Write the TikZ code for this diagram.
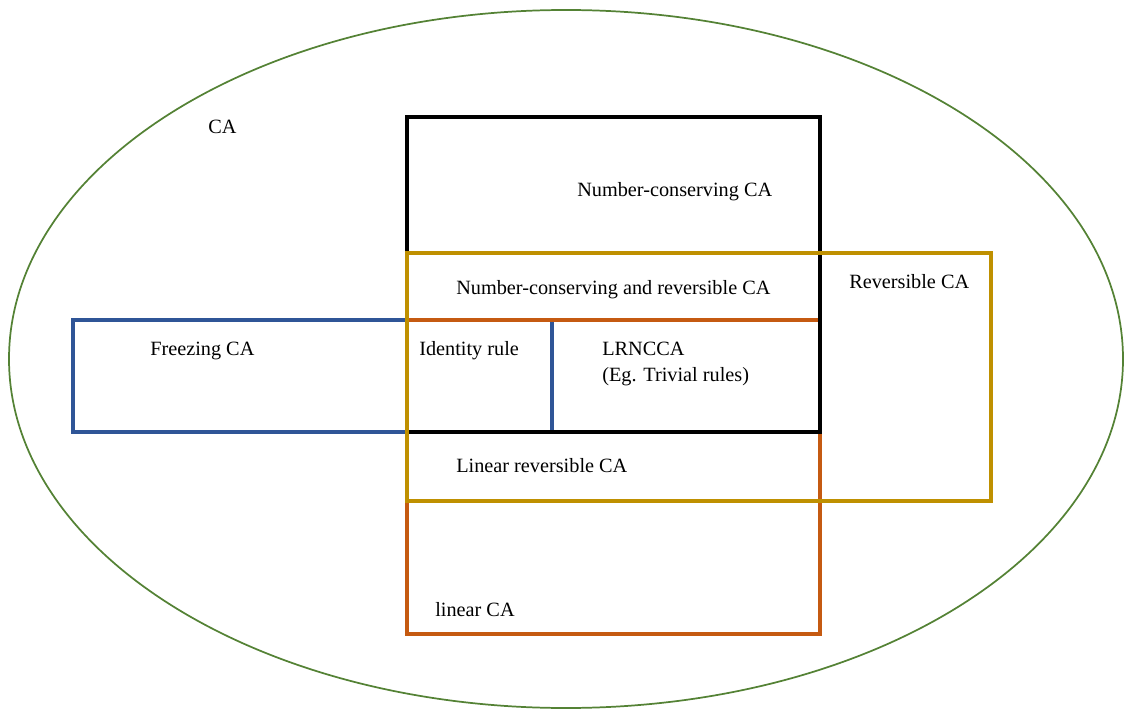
\documentclass[tikz,border=0pt]{standalone}
\usepackage{fontspec}
\setmainfont{Liberation Serif}
\definecolor{ellgreen}{HTML}{548235}
\definecolor{boxgold}{HTML}{BF9000}
\definecolor{boxorange}{HTML}{C55A11}
\definecolor{boxblue}{HTML}{2F5597}
\begin{document}
\begin{tikzpicture}[x=0.75pt,y=-0.75pt,
  lbl/.style={anchor=base west,inner sep=0pt,font=\fontsize{15.2}{18}\selectfont},
  setbox/.style={line width=2.3pt,line join=miter}]
\useasboundingbox (0,0) rectangle (1124,709);
\draw[ellgreen,line width=1.3pt] (566,359) ellipse [x radius=557,y radius=349];
% blue: freezing
\draw[setbox,boxblue] (407,320) -- (73,320) -- (73,432) -- (407,432);
\draw[setbox,boxblue] (552,320) -- (552,432);
% orange: linear
\draw[setbox,boxorange] (407,320) rectangle (820,634);
% black: number-conserving
\draw[setbox,black] (407,117) rectangle (820,432);
% gold: reversible
\draw[setbox,boxgold] (407,253) rectangle (991,501);
\node[lbl] (ca) at (208,134) {CA};
\node[lbl] (nc) at (577,197) {Number-conserving CA};
\node[lbl] (ncr) at (456,295) {Number-conserving and reversible CA};
\node[lbl] (rev) at (849,289) {Reversible CA};
\node[lbl] (frz) at (150,355) {Freezing CA};
\node[lbl] (id) at (419,355) {Identity rule};
\node[lbl] (lr) at (602,355) {LRNCCA};
\node[lbl] (eg) at (602,381) {(Eg. Trivial rules)};
\node[lbl] (lrev) at (456,472) {Linear reversible CA};
\node[lbl] (lin) at (435,616) {linear CA};
\end{tikzpicture}
\end{document}
